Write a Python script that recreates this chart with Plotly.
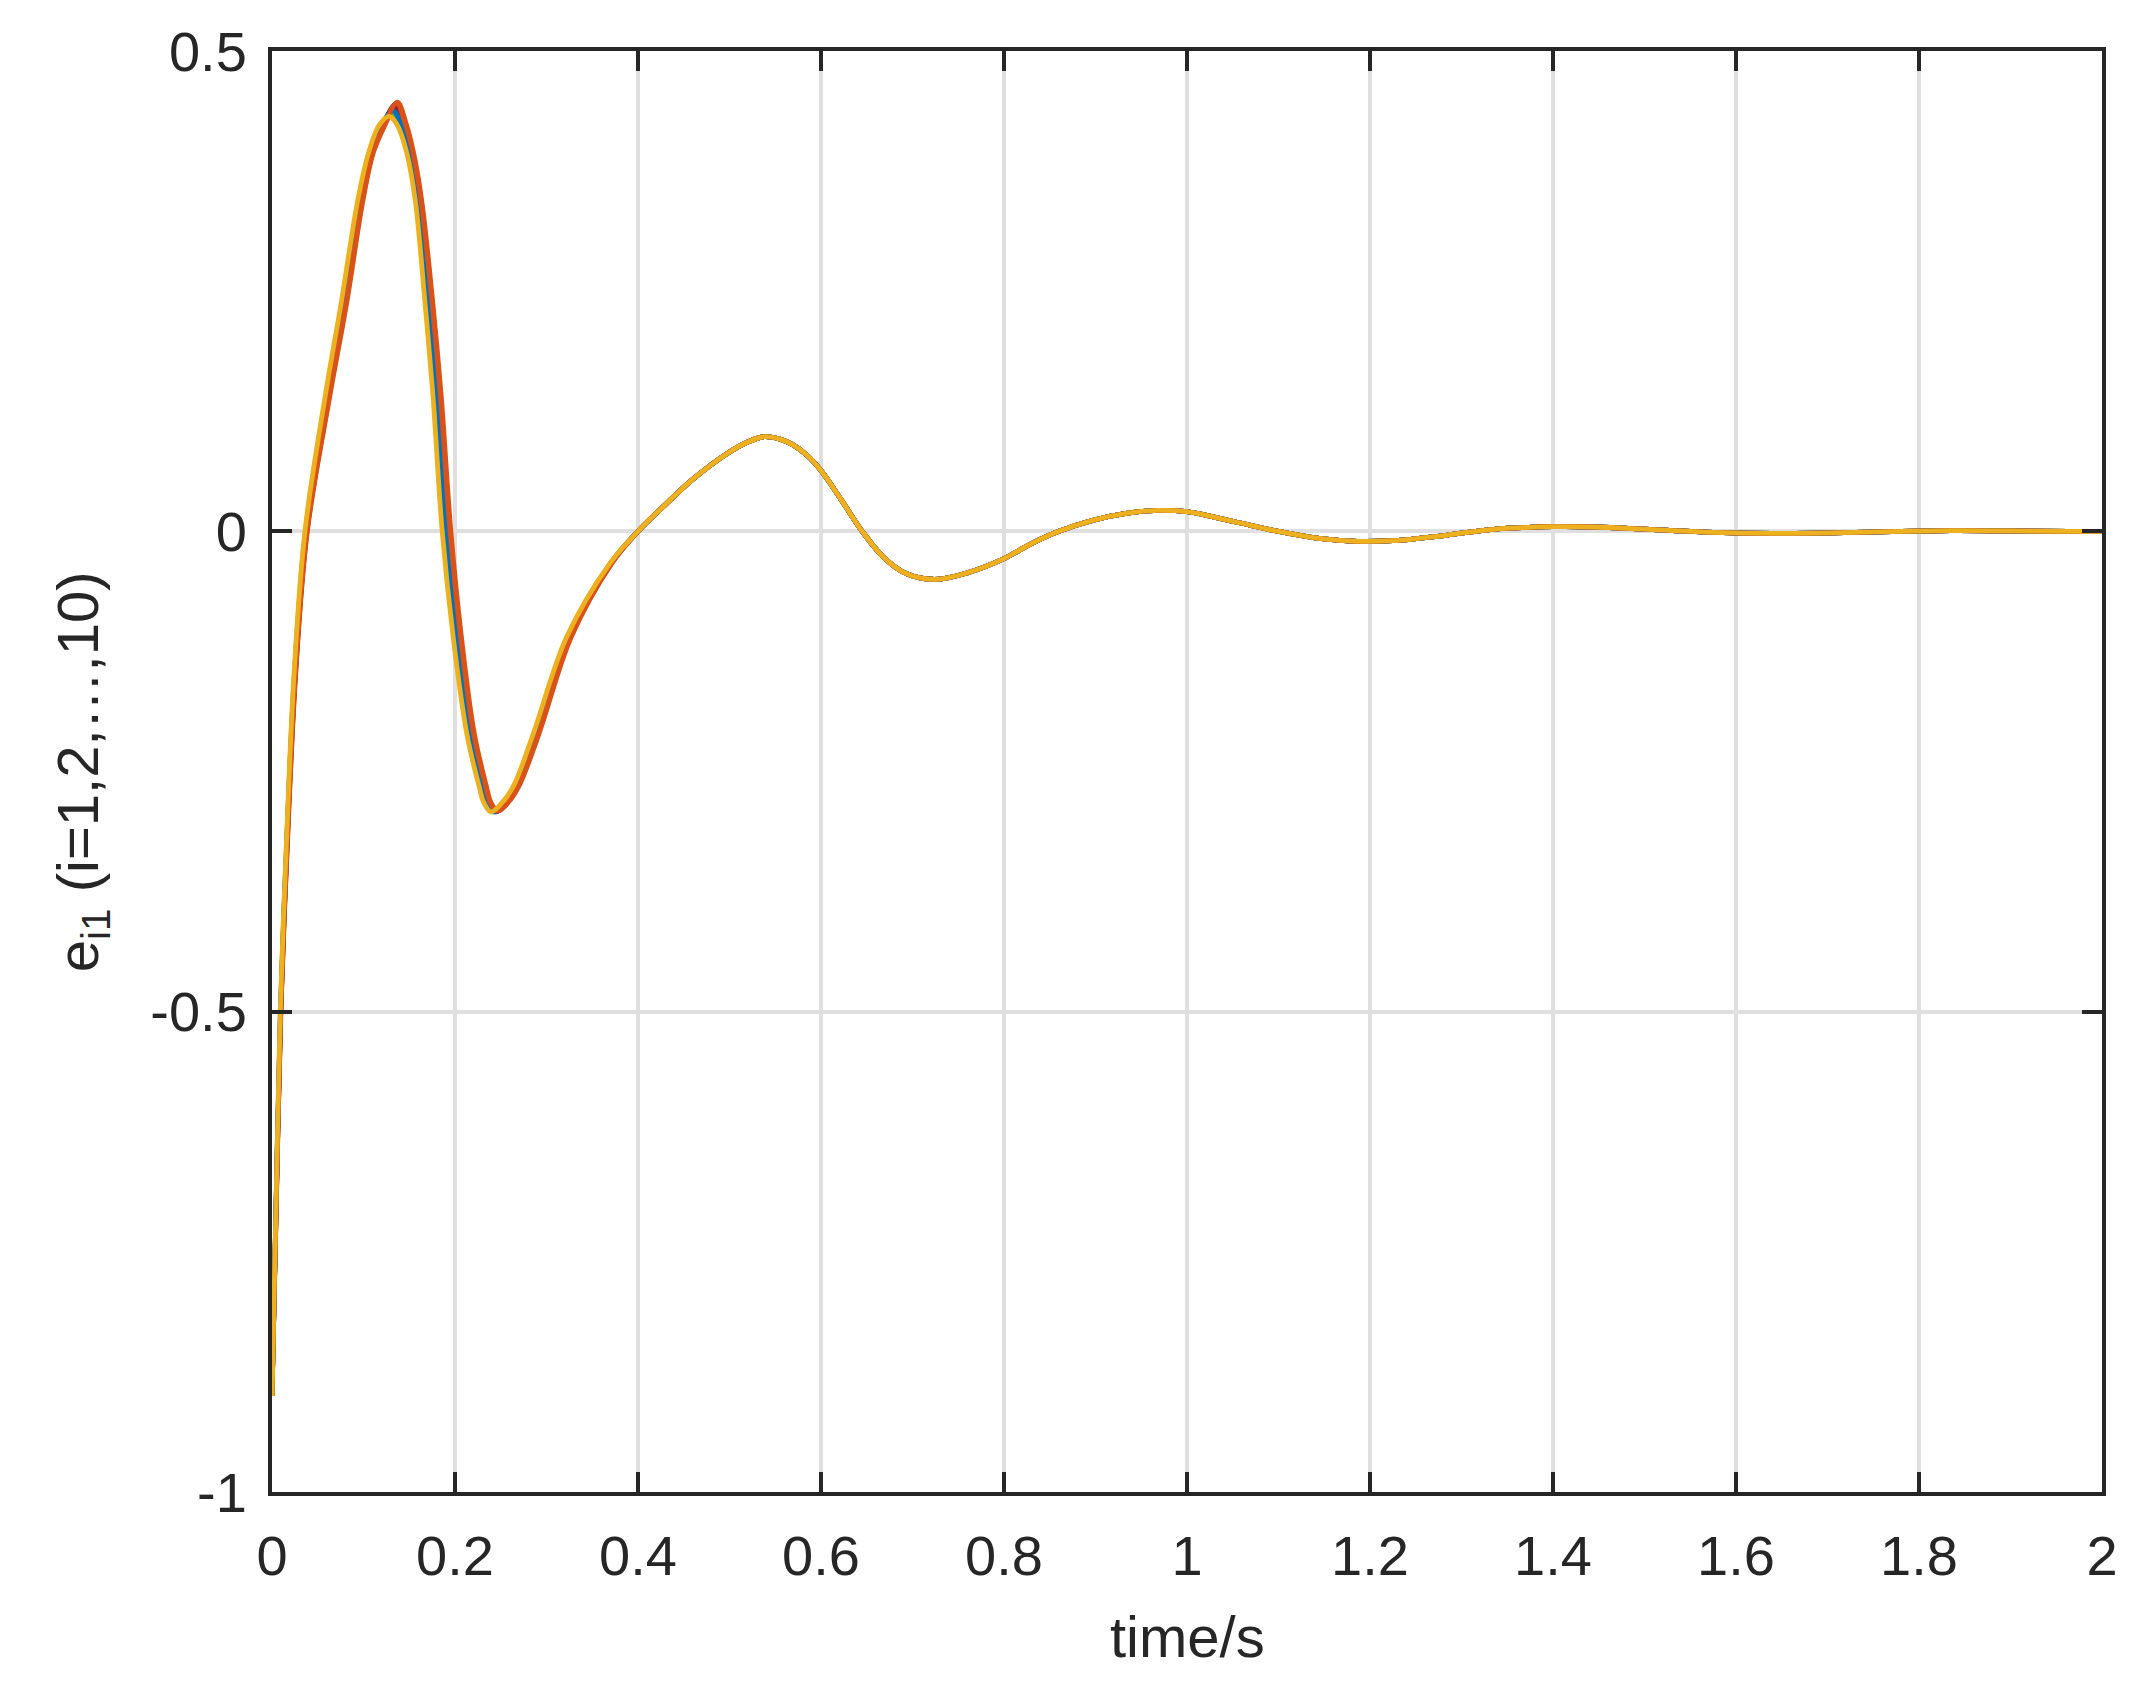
import plotly.graph_objects as go

# ---------------- data ----------------
# Head part (t < 0.4): value levels shared by all agents, crossing times per agent.
head_levels = [-0.90, -0.70, -0.50, -0.33, -0.15, 0.00, 0.14, 0.24, 0.345, 0.395, 0.423,
               None, 0.423, 0.395, 0.345, 0.24, 0.14, 0.00, -0.11, -0.21, -0.265, -0.283,
               None, -0.283, -0.265, -0.21, -0.11, -0.033]
PEAK_IDX = 11
TROUGH_IDX = 22

t_head_1 = [0.0000, 0.0045, 0.0093, 0.0159, 0.0247, 0.0370, 0.0600, 0.0784, 0.0961, 0.1079, 0.1198,
            0.1317, 0.1409, 0.1500, 0.1593, 0.1704, 0.1796, 0.1898, 0.2016, 0.2161, 0.2294, 0.2349,
            0.2424, 0.2536, 0.2664, 0.2883, 0.3240, 0.3703]
t_head_2 = [0.0000, 0.0047, 0.0097, 0.0166, 0.0258, 0.0386, 0.0630, 0.0820, 0.0995, 0.1110, 0.1235,
            0.1370, 0.1470, 0.1545, 0.1635, 0.1755, 0.1850, 0.1955, 0.2070, 0.2210, 0.2342, 0.2396,
            0.2470, 0.2576, 0.2700, 0.2920, 0.3270, 0.3715]
t_head_3 = [0.0000, 0.0044, 0.0091, 0.0157, 0.0243, 0.0364, 0.0588, 0.0769, 0.0947, 0.1066, 0.1182,
            0.1295, 0.1384, 0.1481, 0.1576, 0.1683, 0.1774, 0.1874, 0.1994, 0.2140, 0.2274, 0.2330,
            0.2405, 0.2520, 0.2649, 0.2867, 0.3228, 0.3698]
t_head_4 = [0.0000, 0.0046, 0.0095, 0.0163, 0.0254, 0.0380, 0.0618, 0.0805, 0.0981, 0.1097, 0.1220,
            0.1348, 0.1445, 0.1526, 0.1618, 0.1734, 0.1828, 0.1931, 0.2048, 0.2190, 0.2322, 0.2377,
            0.2451, 0.2560, 0.2685, 0.2905, 0.3258, 0.3710]
t_head_5 = [0.0000, 0.0045, 0.0092, 0.0158, 0.0245, 0.0368, 0.0595, 0.0778, 0.0955, 0.1074, 0.1192,
            0.1308, 0.1399, 0.1493, 0.1586, 0.1696, 0.1787, 0.1889, 0.2007, 0.2153, 0.2286, 0.2341,
            0.2417, 0.2530, 0.2658, 0.2877, 0.3235, 0.3701]
t_head_6 = [0.0000, 0.0046, 0.0094, 0.0161, 0.0250, 0.0374, 0.0608, 0.0793, 0.0969, 0.1087, 0.1207,
            0.1330, 0.1425, 0.1511, 0.1604, 0.1717, 0.1810, 0.1912, 0.2030, 0.2173, 0.2306, 0.2361,
            0.2436, 0.2546, 0.2673, 0.2892, 0.3248, 0.3706]
t_head_7 = [0.0000, 0.0046, 0.0095, 0.0162, 0.0252, 0.0377, 0.0613, 0.0799, 0.0975, 0.1092, 0.1213,
            0.1339, 0.1435, 0.1519, 0.1611, 0.1725, 0.1819, 0.1922, 0.2039, 0.2181, 0.2314, 0.2369,
            0.2443, 0.2553, 0.2679, 0.2898, 0.3253, 0.3708]
t_head_8 = [0.0000, 0.0045, 0.0093, 0.0160, 0.0248, 0.0372, 0.0603, 0.0787, 0.0964, 0.1081, 0.1201,
            0.1322, 0.1415, 0.1504, 0.1597, 0.1708, 0.1801, 0.1903, 0.2021, 0.2165, 0.2298, 0.2353,
            0.2428, 0.2540, 0.2667, 0.2886, 0.3243, 0.3704]
t_head_9 = [0.0000, 0.0047, 0.0096, 0.0165, 0.0256, 0.0383, 0.0625, 0.0814, 0.0989, 0.1105, 0.1229,
            0.1361, 0.1460, 0.1538, 0.1628, 0.1747, 0.1841, 0.1946, 0.2061, 0.2202, 0.2334, 0.2388,
            0.2462, 0.2569, 0.2694, 0.2914, 0.3265, 0.3713]
t_head_10 = [0.0000, 0.0044, 0.0090, 0.0155, 0.0240, 0.0360, 0.0580, 0.0760, 0.0938, 0.1058, 0.1173,
             0.1282, 0.1369, 0.1470, 0.1565, 0.1670, 0.1760, 0.1860, 0.1980, 0.2128, 0.2262, 0.2318,
             0.2394, 0.2510, 0.2640, 0.2858, 0.3220, 0.3695]

peak_values = [0.4368, 0.4468, 0.4335, 0.4445, 0.4355, 0.4405, 0.4425, 0.4378, 0.4455, 0.4319]
trough_values = [-0.292, -0.291, -0.292, -0.292, -0.292, -0.292, -0.292, -0.292, -0.291, -0.292]

# Tail part (t >= 0.4): all agents coincide
t_tail = [0.400, 0.424, 0.4604, 0.4967, 0.520, 0.538, 0.555, 0.569, 0.585, 0.600, 0.622, 0.645,
          0.668, 0.693, 0.724, 0.760, 0.800, 0.830, 0.860, 0.897, 0.935, 0.969, 1.000, 1.052,
          1.100, 1.147, 1.186, 1.225, 1.283, 1.335, 1.400, 1.445, 1.510, 1.575, 1.640, 1.705,
          1.770, 1.835, 1.900, 1.964, 2.000]
e_tail = [0.000, 0.0225, 0.0546, 0.0806, 0.0930, 0.0985, 0.0960, 0.0902, 0.0790, 0.0633, 0.0330, 0.000,
          -0.0266, -0.0439, -0.0501, -0.0432, -0.0284, -0.0128, 0.000, 0.0114, 0.0190, 0.0218, 0.0204, 0.0100,
          0.000, -0.0076, -0.0104, -0.0097, -0.0041, 0.0021, 0.0048, 0.0045, 0.0017, -0.0010, -0.0021, -0.0017,
          -0.0003, 0.0007, 0.0004, 0.0000, 0.0000]

head_times = [t_head_1, t_head_2, t_head_3, t_head_4, t_head_5,
              t_head_6, t_head_7, t_head_8, t_head_9, t_head_10]

line_colors = ["#0072BD", "#D95319", "#EDB120", "#7E2F8E", "#77AC30",
               "#4DBEEE", "#A2142F", "#0072BD", "#D95319", "#EDB120"]

x_tickvals = [0, 0.2, 0.4, 0.6, 0.8, 1.0, 1.2, 1.4, 1.6, 1.8, 2.0]
x_ticktext = ["0", "0.2", "0.4", "0.6", "0.8", "1", "1.2", "1.4", "1.6", "1.8", "2"]
y_tickvals = [-1, -0.5, 0, 0.5]
y_ticktext = ["-1", "-0.5", "0", "0.5"]

# ---------------- figure ----------------
FONT = "Liberation Sans, Arial, Helvetica, sans-serif"
INK = "#262626"

fig = go.Figure()
for i in range(10):
    vals = list(head_levels)
    vals[PEAK_IDX] = peak_values[i]
    vals[TROUGH_IDX] = trough_values[i]
    xs = list(head_times[i]) + t_tail
    ys = vals + e_tail
    fig.add_trace(go.Scatter(x=xs, y=ys, mode="lines",
                             line=dict(color=line_colors[i], width=4.8, shape="spline", smoothing=1.0),
                             showlegend=False, hoverinfo="skip"))

axis_common = dict(
    showgrid=True, gridcolor="#dfdfdf", gridwidth=3.5,
    showline=True, linecolor=INK, linewidth=4, mirror="allticks",
    ticks="inside", ticklen=20, tickwidth=4, tickcolor=INK,
    tickfont=dict(family=FONT, size=56, color=INK),
    zeroline=False,
)

fig.update_layout(
    width=2144, height=1690,
    margin=dict(l=264, r=50, t=38, b=206),
    paper_bgcolor="white", plot_bgcolor="white",
    xaxis=dict(range=[0, 2], tickmode="array", tickvals=x_tickvals, ticktext=x_ticktext,
               ticklabelstandoff=12, **axis_common),
    yaxis=dict(range=[-1, 0.5], tickmode="array", tickvals=y_tickvals, ticktext=y_ticktext,
               ticklabelstandoff=10, **axis_common),
    annotations=[
        dict(text="time/s", xref="paper", yref="paper", x=0.5, y=-0.1,
             xanchor="center", yanchor="middle", showarrow=False,
             font=dict(family=FONT, size=58, color=INK)),
        dict(text="e<sub>i1</sub> (i=1,2,…,10)", xref="paper", yref="paper", x=-0.104, y=0.5,
             xanchor="center", yanchor="middle", showarrow=False, textangle=-90,
             font=dict(family=FONT, size=58, color=INK)),
    ],
)

fig.write_html("out.html")
